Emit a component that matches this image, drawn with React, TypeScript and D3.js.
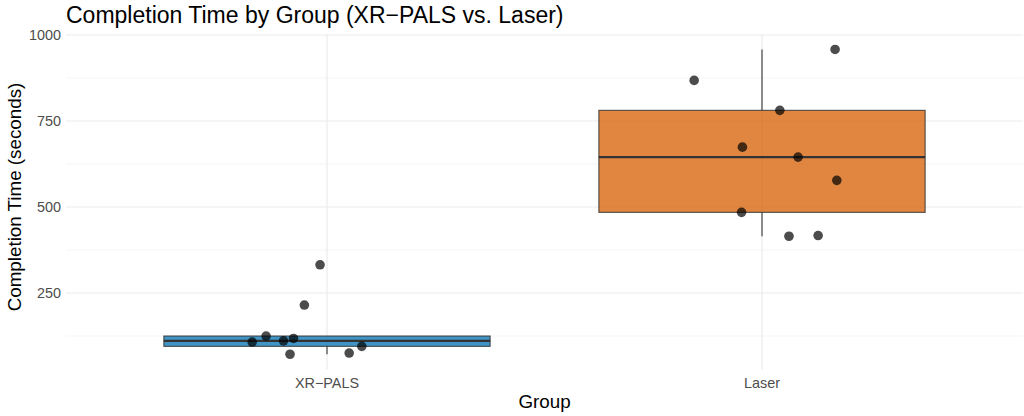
import React from "react";
import * as d3 from "d3";

const groups = ["XR\u2212PALS", "Laser"];
const xrpalsTimes = [332, 215, 125, 107.5, 111, 118, 72, 75.5, 95];
const xrpalsJitter = [-0.016, -0.052, -0.14, -0.172, -0.1, -0.077, -0.085, 0.051, 0.08];
const laserTimes = [958, 868, 781, 674, 645, 577.5, 484.5, 415, 417];
const laserJitter = [0.168, -0.156, 0.041, -0.045, 0.083, 0.172, -0.047, 0.062, 0.129];
const yTicks = [250, 500, 750, 1000];
const yMinorTicks = [125, 375, 625, 875];
const fills = ["#0072B2", "#D55E00"];

const W = 1024;
const H = 416;
const panel = { left: 66, right: 1023, top: 34.2, bottom: 369.5 };
const FONT = "'Liberation Sans', Arial, sans-serif";

function stats(v: number[]) {
  const s = [...v].sort((a, b) => a - b);
  const q1 = d3.quantile(s, 0.25)!;
  const med = d3.quantile(s, 0.5)!;
  const q3 = d3.quantile(s, 0.75)!;
  const iqr = q3 - q1;
  const lo = d3.min(s.filter((d) => d >= q1 - 1.5 * iqr))!;
  const hi = d3.max(s.filter((d) => d <= q3 + 1.5 * iqr))!;
  return { q1, med, q3, lo, hi };
}

export default function App() {
  const series = [
    { name: groups[0], values: xrpalsTimes, jitter: xrpalsJitter, fill: fills[0] },
    { name: groups[1], values: laserTimes, jitter: laserJitter, fill: fills[1] },
  ];
  const all = [...xrpalsTimes, ...laserTimes];
  const [mn, mx] = d3.extent(all) as [number, number];
  const pad = (mx - mn) * 0.05;
  const y = d3.scaleLinear().domain([mn - pad, mx + pad]).range([panel.bottom, panel.top]);
  const x = d3.scalePoint<string>().domain(groups).range([panel.left, panel.right]).padding(0.6);
  const step = x.step();
  const bw = step * 0.75;

  return (
    <svg width={W} height={H} style={{ position: "absolute", left: 0, top: 0, background: "#fff" }} fontFamily={FONT}>
      {yMinorTicks.map((t) => (
        <line key={"m" + t} x1={panel.left} x2={panel.right} y1={y(t)} y2={y(t)} stroke="#f2f2f2" strokeWidth={0.8} />
      ))}
      {yTicks.map((t) => (
        <line key={"g" + t} x1={panel.left} x2={panel.right} y1={y(t)} y2={y(t)} stroke="#ebebeb" strokeWidth={1.2} />
      ))}
      {groups.map((g) => (
        <line key={"v" + g} x1={x(g)} x2={x(g)} y1={panel.top} y2={panel.bottom} stroke="#ebebeb" strokeWidth={1.2} />
      ))}
      {series.map((s) => {
        const st = stats(s.values);
        const cx = x(s.name)!;
        return (
          <g key={s.name}>
            <line x1={cx} x2={cx} y1={y(st.hi)} y2={y(st.q3)} stroke="#333" strokeWidth={1.1} />
            <line x1={cx} x2={cx} y1={y(st.q1)} y2={y(st.lo)} stroke="#333" strokeWidth={1.1} />
            <rect
              x={cx - bw / 2}
              y={y(st.q3)}
              width={bw}
              height={y(st.q1) - y(st.q3)}
              fill={s.fill}
              fillOpacity={0.75}
              stroke="#333"
              strokeOpacity={0.85}
              strokeWidth={1.1}
            />
            <line x1={cx - bw / 2} x2={cx + bw / 2} y1={y(st.med)} y2={y(st.med)} stroke="#333" strokeWidth={2.4} />
          </g>
        );
      })}
      {series.map((s) =>
        s.values.map((v, i) => (
          <circle key={s.name + i} cx={x(s.name)! + s.jitter[i] * step} cy={y(v)} r={4.8} fill="#000" fillOpacity={0.7} />
        ))
      )}
      {yTicks.map((t) => (
        <text key={"t" + t} x={61} y={y(t)} dy="0.36em" textAnchor="end" fontSize={14.4} fill="#4d4d4d">
          {t}
        </text>
      ))}
      {groups.map((g) => (
        <text key={"x" + g} x={x(g)} y={387.5} textAnchor="middle" fontSize={14.4} fill="#4d4d4d">
          {g}
        </text>
      ))}
      <text x={(panel.left + panel.right) / 2} y={408} textAnchor="middle" fontSize={18.8} fill="#000">
        Group
      </text>
      <text
        transform={`translate(20.5, 197) rotate(-90)`}
        textAnchor="middle"
        fontSize={18.8}
        fill="#000"
      >
        Completion Time (seconds)
      </text>
      <text x={66} y={22.5} fontSize={23} fill="#000">
        Completion Time by Group (XR{"\u2212"}PALS vs. Laser)
      </text>
    </svg>
  );
}
